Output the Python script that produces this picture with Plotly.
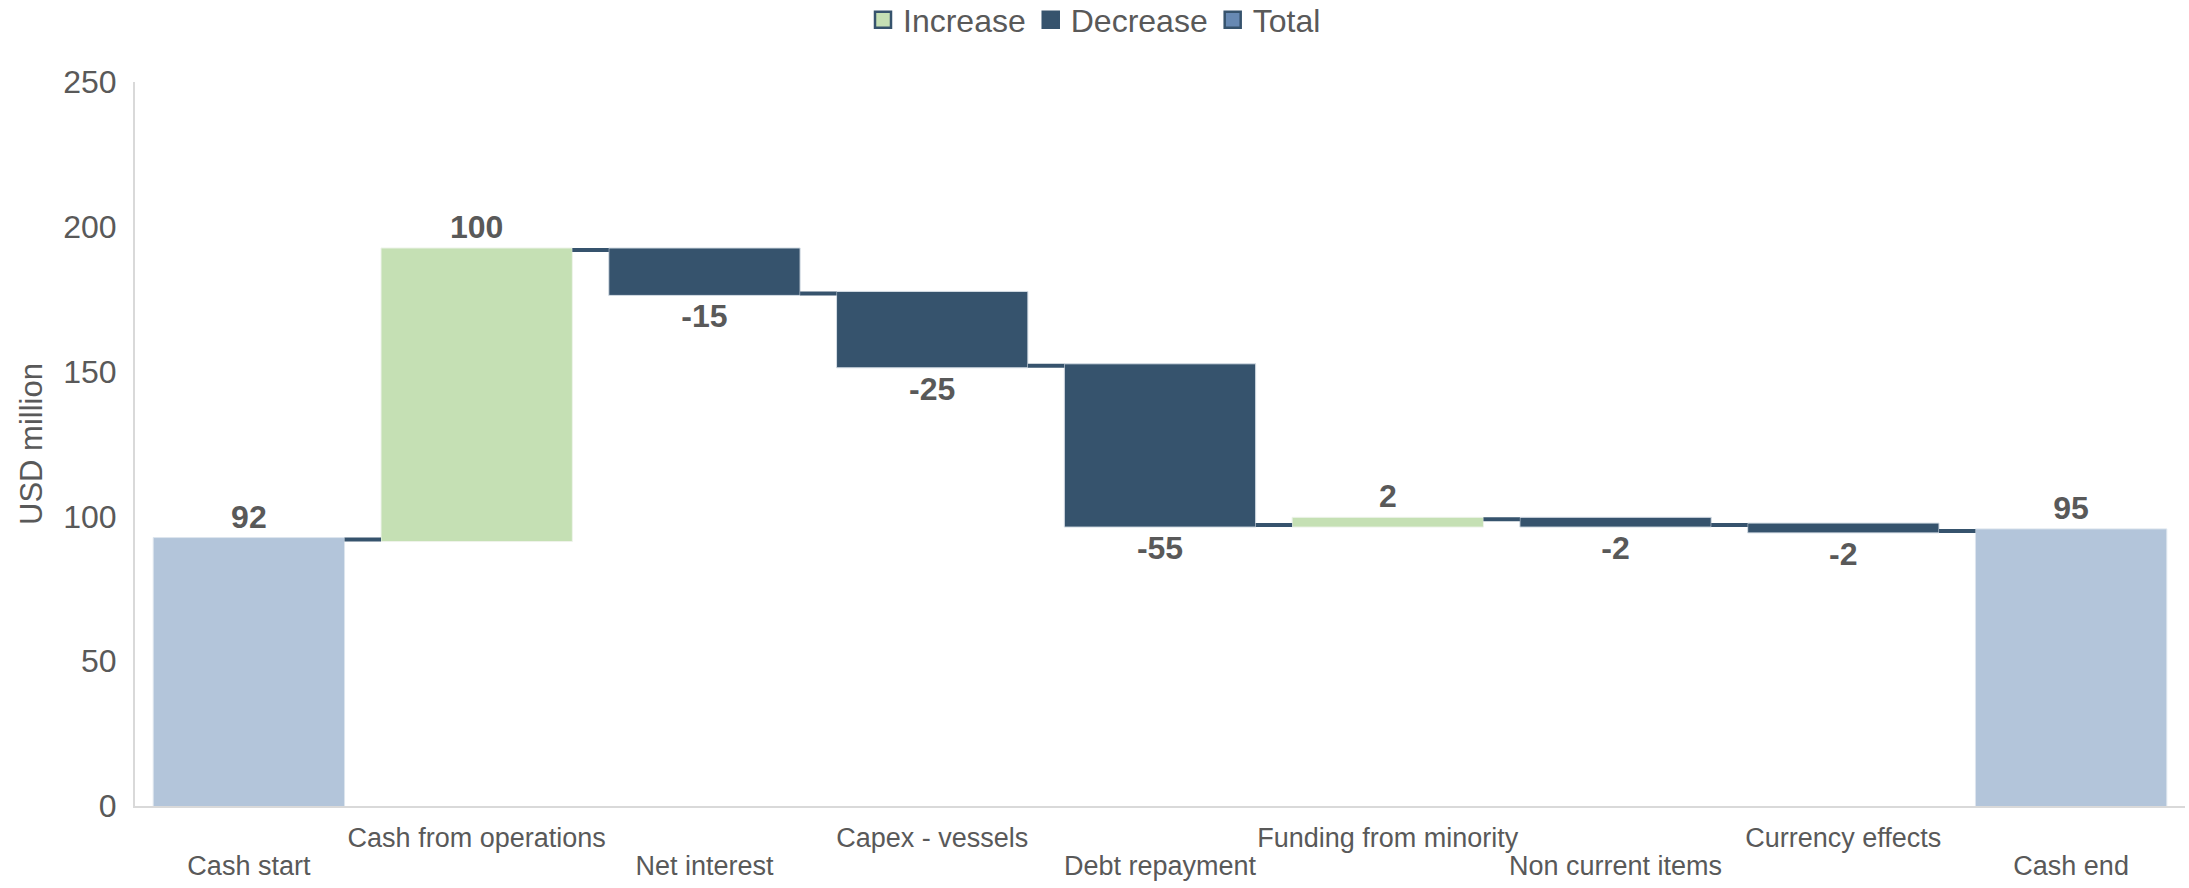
import plotly.graph_objects as go

# ---- data ----
categories = ["Cash start", "Cash from operations", "Net interest", "Capex - vessels",
              "Debt repayment", "Funding from minority", "Non current items",
              "Currency effects", "Cash end"]
values = [92, 100, -15, -25, -55, 2, -2, -2, 0]
measures = ["absolute", "relative", "relative", "relative", "relative",
            "relative", "relative", "relative", "total"]
y_ticks = [0, 50, 100, 150, 200, 250]
legend_names = ["Increase", "Decrease", "Total"]

# ---- style ----
FONT = "Liberation Sans, Arial, sans-serif"
GREY = "#595959"
C_INC = "#c5e0b4"
C_DEC = "#36536d"
C_TOT = "#b3c5da"
C_TOT_LEG = "#6789b3"
AXIS = "#d9d9d9"

# data labels: totals show running sum, others their delta
labels = []
running = 0
for m, v in zip(measures, values):
    if m == "absolute":
        running = v
        labels.append(str(v))
    elif m == "relative":
        running += v
        labels.append(str(v))
    else:
        labels.append(str(running))

# staggered category labels: odd ones on the upper row (x axis),
# even ones on the lower row (overlaid x2 axis)
idx = list(range(len(categories)))
upper_vals = [i for i in idx if i % 2 == 1]
lower_vals = [i for i in idx if i % 2 == 0]

fig = go.Figure()
fig.add_trace(go.Waterfall(
    x=idx, y=values, measure=measures,
    text=labels, textposition="outside",
    textfont=dict(family=FONT, size=32, color=GREY, weight="bold"),
    connector=dict(mode="between", line=dict(color=C_DEC, width=4)),
    increasing=dict(marker=dict(color=C_INC, line=dict(color="#eef3ea", width=1))),
    decreasing=dict(marker=dict(color=C_DEC, line=dict(color="#d5dde5", width=1))),
    totals=dict(marker=dict(color=C_TOT, line=dict(color="#dde5ee", width=1))),
    showlegend=False, cliponaxis=False, hoverinfo="skip",
))

leg_fill = [C_INC, C_DEC, C_TOT_LEG]
for name, col in zip(legend_names, leg_fill):
    fig.add_trace(go.Scatter(
        x=[None], y=[None], mode="markers", name=name,
        marker=dict(symbol="square", size=16, color=col, line=dict(color=C_DEC, width=2.5)),
    ))

# invisible helper trace so the second (label-only) x axis is drawn
fig.add_trace(go.Scatter(x=[None], y=[None], xaxis="x2", showlegend=False,
                         hoverinfo="skip", mode="markers"))

xr = [-0.5, len(categories) - 0.5]
fig.update_layout(
    width=2189, height=888,
    margin=dict(l=135, r=4, t=82, b=82),
    paper_bgcolor="white", plot_bgcolor="white",
    font=dict(family=FONT, color=GREY),
    waterfallgap=0.16,
    legend=dict(orientation="h", x=0.5, xanchor="center", xref="container",
                y=1 - 20 / 888, yanchor="middle", yref="container",
                font=dict(size=32, color=GREY, family=FONT), itemwidth=30),
    xaxis=dict(type="linear", range=xr, tickmode="array", tickvals=upper_vals,
               ticktext=[categories[i] for i in upper_vals],
               showline=True, linecolor=AXIS, linewidth=2, showgrid=False,
               zeroline=False, ticks="", tickfont=dict(size=27, color=GREY, family=FONT),
               tickangle=0, ticklabelstandoff=7),
    xaxis2=dict(type="linear", range=xr, overlaying="x", anchor="y", side="bottom",
                tickmode="array", tickvals=lower_vals,
                ticktext=[categories[i] for i in lower_vals],
                showline=False, showgrid=False, zeroline=False, ticks="",
                tickfont=dict(size=27, color=GREY, family=FONT),
                tickangle=0, ticklabelstandoff=41),
    yaxis=dict(range=[0, 250], tickvals=y_ticks, showline=True, linecolor=AXIS,
               linewidth=2, showgrid=False, zeroline=False, ticks="",
               tickfont=dict(size=32, color=GREY, family=FONT),
               ticklabelstandoff=10,
               title=dict(text="USD million", font=dict(size=31, color=GREY, family=FONT),
                          standoff=11)),
)

fig.write_html("out.html")
